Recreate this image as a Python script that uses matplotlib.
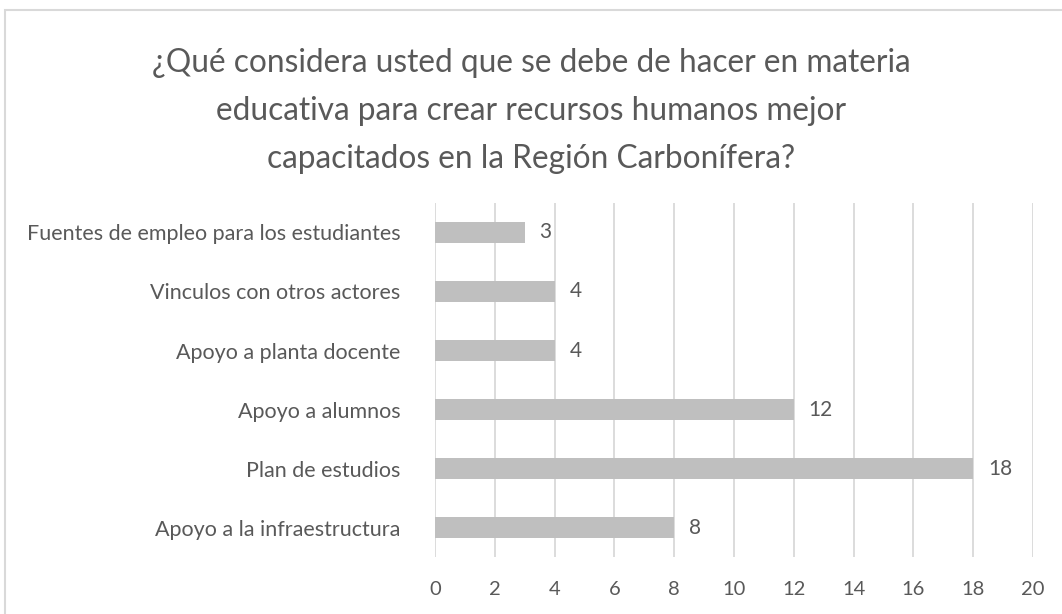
import matplotlib
matplotlib.use("Agg")
import matplotlib.pyplot as plt
from matplotlib.patches import Rectangle

categories = ["Apoyo a la infraestructura", "Plan de estudios", "Apoyo a alumnos",
              "Apoyo a planta docente", "Vinculos con otros actores",
              "Fuentes de empleo para los estudiantes"]
values = [8, 18, 12, 4, 4, 3]
xticks = [0, 2, 4, 6, 8, 10, 12, 14, 16, 18, 20]
title = ("¿Qué considera usted que se debe de hacer en materia\n"
         "educativa para crear recursos humanos mejor\n"
         "capacitados en la Región Carbonífera?")

plt.rcParams['font.family'] = ['Lato', 'DejaVu Sans']
txt = "#595959"

fig = plt.figure(figsize=(10.62, 6.14), dpi=100)
fig.patches.append(Rectangle((5/1062, -0.1), 1.2, 1 - 10/614 + 0.1, transform=fig.transFigure,
                             fill=False, edgecolor="#d9d9d9", linewidth=1.5))
ax = fig.add_axes([0.4096, 0.0928, 0.5631, 0.5766])
y = list(range(len(categories)))
ax.barh(y, values, height=0.34, color="#bfbfbf", zorder=3)
for yi, v in zip(y, values):
    ax.text(v + 0.5, yi, str(v), va="center", ha="left", fontsize=15, color=txt)
ax.set_xlim(0, 20)
ax.set_ylim(-0.5, len(categories) - 0.5)
ax.set_xticks(xticks)
ax.set_xticklabels([str(t) for t in xticks])
ax.set_yticks(y)
ax.set_yticklabels(categories)
ax.tick_params(axis="x", length=0, labelsize=14.5, colors=txt, pad=17)
ax.tick_params(axis="y", length=0, labelsize=15.5, colors=txt, pad=25)
ax.grid(axis="x", color="#d9d9d9", linewidth=1.3, zorder=0)
for s in ax.spines.values():
    s.set_visible(False)
fig.text(0.5, 0.922, title, ha="center", va="top", fontsize=22.8, color=txt, linespacing=1.75)
fig.savefig("out.png", dpi=100)
